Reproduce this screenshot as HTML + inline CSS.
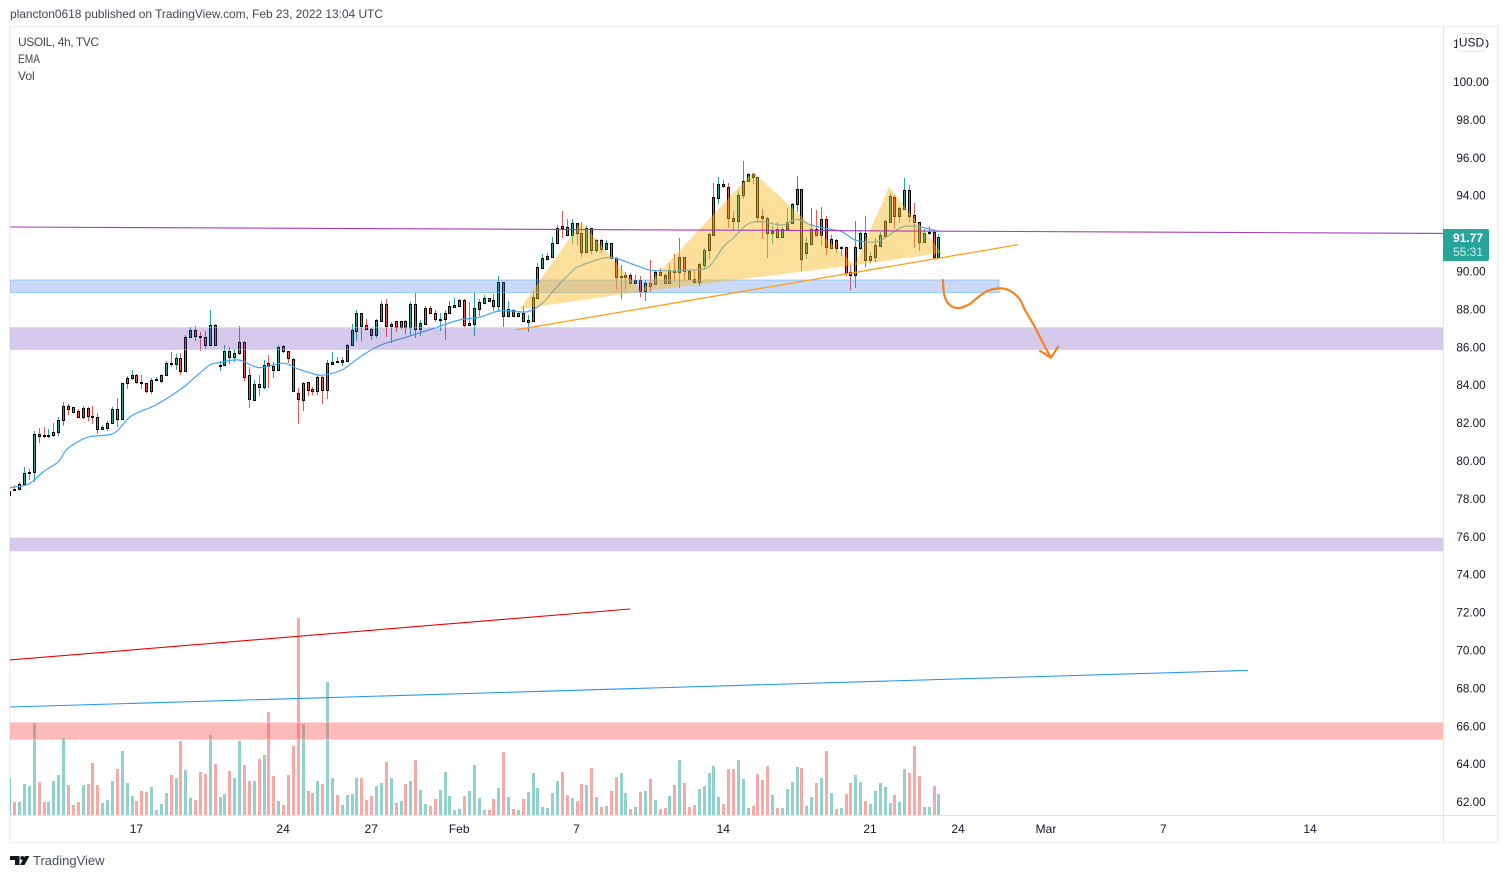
<!DOCTYPE html>
<html lang="en">
<head>
<meta charset="utf-8">
<title>USOIL 4h chart</title>
<style>
html,body{margin:0;padding:0;background:#fff;width:1509px;height:878px;overflow:hidden}
svg{display:block;font-family:"Liberation Sans",sans-serif}
text{font-family:"Liberation Sans",sans-serif}
</style>
</head>
<body>
<svg id="root" width="1509" height="878" viewBox="0 0 1509 878" xmlns="http://www.w3.org/2000/svg">
  <defs>
    <clipPath id="pane-clip"><rect x="10" y="27" width="1433.5" height="788.5"/></clipPath>
  </defs>
  <text x="10" y="18" font-size="12" textLength="373" fill="#434651">plancton0618 published on TradingView.com, Feb 23, 2022 13:04 UTC</text>
  <rect x="10" y="26.5" width="1488" height="816" fill="#fff" stroke="#f0f3fa" stroke-width="2"/>
  <g clip-path="url(#pane-clip)">
    <g id="volumes"></g>
    <g id="candles" shape-rendering="crispEdges"></g>
    <g id="ema"></g>
    <g id="drawings"></g>
  </g>
  <line x1="1443.5" y1="27" x2="1443.5" y2="842" stroke="#e0e3eb"/>
  <line x1="10" y1="815.5" x2="1497" y2="815.5" stroke="#e0e3eb"/>
  <g id="price-axis"></g>
  <g id="time-axis"></g>
  <g font-size="12" fill="#434651">
    <text x="18" y="46" textLength="81">USOIL, 4h, TVC</text>
    <text x="18" y="63" textLength="22" lengthAdjust="spacingAndGlyphs">EMA</text>
    <text x="18" y="80">Vol</text>
  </g>
  <g>
    <rect x="1457.5" y="33.5" width="28" height="18" rx="4" fill="#fff" stroke="#e0e3eb"/>
    <text x="1471.5" y="46.5" font-size="12" text-anchor="middle" fill="#131722">USD</text>
  </g>
  <g>
    <path d="M1443 229H1487a2 2 0 0 1 2 2V259a2 2 0 0 1 -2 2H1443Z" fill="#26a69a"/>
    <text x="1468" y="242" font-size="12" font-weight="bold" text-anchor="middle" fill="#fff">91.77</text>
    <text x="1468" y="256" font-size="12" text-anchor="middle" fill="#d4eeeb">55:31</text>
  </g>
  <g>
    <path d="M10 856H19.5V865H15V860H10Z" fill="#131722"/>
    <circle cx="22.3" cy="858" r="2" fill="#131722"/>
    <path d="M25 856H29.5L24.5 865H20Z" fill="#131722"/>
    <text x="33" y="865" font-size="13" fill="#4a4e5a">TradingView</text>
  </g>
</svg>
<script>
// Candle data: first entry is the partly visible bar at the left edge (bar index -1)
const firstBar = -1;
const opens = [78.20,
78.50,78.50,78.77,79.39,79.40,81.41,81.39,81.34,81.39,81.51,
82.15,82.89,82.83,82.62,82.30,82.78,82.39,82.30,81.71,81.76,
81.99,82.73,82.20,84.10,84.40,84.52,84.19,84.10,83.71,84.26,
84.24,84.52,85.16,85.10,85.42,84.77,86.53,86.90,86.58,86.53,
86.14,87.20,85.05,85.05,85.79,85.47,85.68,86.26,84.56,83.24,
84.05,83.92,85.16,85.00,84.79,86.05,85.79,85.40,83.61,83.23,
84.15,83.79,83.71,84.43,83.76,85.13,85.26,85.24,85.29,86.12,
86.87,87.79,87.16,86.95,86.66,87.40,88.27,87.14,87.37,87.07,
87.37,87.09,88.27,86.95,87.24,88.05,87.83,87.47,87.47,87.79,
88.14,88.20,88.48,87.19,87.24,88.04,88.35,88.58,88.48,88.18,
89.43,87.67,87.97,87.67,87.79,87.35,87.40,88.62,90.20,90.67,
90.78,91.52,92.38,92.33,91.92,92.54,92.01,91.04,92.27,91.13,
91.64,91.20,91.48,90.73,89.72,89.72,89.84,89.41,89.53,88.98,
89.37,89.32,90.00,89.84,89.41,90.06,89.99,90.74,90.04,89.58,
89.46,90.34,91.16,91.94,93.89,94.60,94.47,92.84,92.68,94.02,
94.79,95.12,94.97,92.91,92.84,92.01,92.22,91.83,92.26,92.57,
93.54,94.33,90.99,91.46,92.22,91.94,92.75,91.25,91.64,91.26,
91.27,89.95,89.79,91.25,92.01,90.62,90.78,91.36,91.87,92.63,
93.91,92.94,93.31,94.28,92.96,92.59,91.57,92.01,92.06,90.78];
const highs = [78.47,
78.73,78.91,79.66,79.56,81.58,81.72,81.78,81.67,81.99,82.30,
83.10,83.01,82.87,82.74,82.90,82.87,82.90,82.52,81.90,82.13,
82.83,83.34,84.14,84.49,84.80,84.59,84.54,84.14,84.36,84.42,
84.59,85.28,85.77,85.65,85.68,86.65,87.06,87.13,86.79,86.86,
87.97,87.22,85.26,86.12,86.00,85.91,87.13,86.32,84.98,84.28,
84.54,85.33,85.60,85.24,86.12,86.12,85.81,85.42,83.84,84.15,
84.18,83.88,84.53,84.50,85.33,85.75,85.50,85.47,86.17,87.23,
87.97,87.83,87.49,87.00,87.49,88.44,88.55,87.35,87.40,87.40,
87.44,88.37,88.88,87.44,88.18,88.18,87.97,87.79,87.97,88.46,
88.58,88.55,88.53,88.41,88.88,88.53,88.76,88.62,88.79,89.76,
89.46,88.44,88.00,87.88,88.18,87.70,88.97,90.43,90.92,90.99,
91.80,92.45,93.19,92.77,92.75,92.57,92.59,92.40,92.31,91.69,
91.69,91.66,91.52,90.78,90.34,89.99,89.90,89.84,89.76,89.55,
90.60,90.07,90.16,89.90,90.43,90.92,91.75,90.78,90.11,90.07,
90.43,91.22,92.01,94.65,94.97,94.83,94.65,93.21,94.26,95.83,
95.18,95.18,95.00,93.28,92.89,92.40,92.59,92.33,93.33,93.59,
95.04,94.37,91.80,93.37,93.24,93.38,92.92,91.92,91.69,91.34,
91.31,90.34,92.66,92.13,92.92,91.04,91.75,92.10,92.71,94.12,
94.03,93.38,94.91,94.56,93.63,92.63,92.22,92.40,92.19,91.97];
const lows = [78.20,
78.43,78.47,78.73,79.00,78.91,80.97,81.20,81.23,81.25,81.34,
81.86,82.43,82.57,82.27,82.23,82.09,81.94,81.42,81.67,81.60,
81.94,81.81,82.16,83.78,84.28,84.06,83.80,83.61,83.54,84.22,
84.10,84.49,84.98,84.80,84.54,84.72,86.48,86.35,85.82,85.90,
86.09,86.12,84.77,85.02,85.12,85.24,85.60,84.22,82.82,83.18,
83.45,83.78,83.87,84.36,84.75,85.72,85.16,83.64,81.95,82.63,
83.44,83.48,83.48,83.02,83.27,85.06,85.19,85.01,85.26,86.07,
86.33,86.33,86.91,86.38,86.47,87.35,86.52,86.24,86.82,86.96,
86.68,86.65,86.51,86.59,87.21,87.79,87.35,86.86,86.38,87.76,
88.11,88.14,87.09,87.14,86.59,87.65,88.32,88.41,87.93,87.88,
87.09,87.65,87.61,87.58,87.31,86.82,87.35,88.58,90.17,90.64,
90.69,91.45,91.78,91.87,91.43,91.39,90.78,90.95,90.92,90.95,
90.95,91.13,90.69,89.02,88.54,89.02,89.37,89.37,88.67,88.46,
88.93,89.28,89.81,89.37,89.37,89.46,89.11,89.51,89.55,89.42,
89.25,90.07,90.65,91.89,93.56,94.39,92.27,92.19,92.26,93.84,
94.74,94.60,92.54,91.71,90.73,91.45,91.69,91.80,92.22,92.54,
93.15,90.02,90.65,91.43,91.87,91.34,90.87,91.22,90.95,90.81,
89.76,89.02,89.14,91.13,90.25,90.46,90.51,91.31,91.83,92.59,
92.24,92.54,93.28,92.63,91.25,91.08,91.53,91.92,90.64,90.74];
const closes = [78.42,
78.45,78.77,79.38,79.40,81.41,81.30,81.34,81.39,81.51,82.15,
82.89,82.76,82.60,82.30,82.78,82.39,82.30,81.67,81.78,81.99,
82.73,82.20,84.10,84.40,84.52,84.19,84.10,83.71,84.26,84.31,
84.52,85.16,85.10,85.42,84.77,86.53,86.90,86.58,86.56,86.14,
87.20,86.14,85.06,85.79,85.47,85.68,86.26,84.45,83.26,84.05,
83.92,85.09,85.00,84.79,86.00,85.79,85.42,83.68,83.26,84.09,
83.76,83.71,84.41,83.74,85.15,85.20,85.22,85.31,86.10,86.89,
87.79,87.14,86.95,86.66,87.42,88.27,87.14,87.24,87.07,87.37,
87.09,88.27,86.95,87.26,88.05,87.83,87.47,87.48,87.79,88.16,
88.21,88.48,87.17,87.26,88.05,88.39,88.58,88.46,88.20,89.43,
87.67,88.00,87.67,87.79,87.37,87.42,88.63,90.22,90.69,90.80,
91.53,92.27,92.31,91.92,92.54,92.01,91.04,92.27,91.13,91.66,
91.20,91.48,90.73,89.72,89.74,89.79,89.41,89.53,88.98,89.37,
89.26,90.00,89.84,89.41,90.06,89.99,90.74,90.04,89.58,89.46,
90.37,91.16,91.96,93.91,94.60,94.49,92.84,92.68,94.02,94.79,
95.12,94.97,92.89,92.84,92.01,92.12,91.83,92.26,92.59,93.54,
94.33,90.64,91.48,92.22,91.94,92.75,91.27,91.69,91.25,91.27,
89.93,89.79,91.27,92.01,90.62,90.80,91.39,91.90,92.66,93.98,
92.94,93.33,94.28,92.94,92.59,91.57,92.01,92.06,90.78,91.80];
// Volume per bar, thousands of contracts
const volumes = [37,
13,13,31,29,92,33,13,13,34,40,
77,30,10,13,30,31,52,30,12,15,
34,46,64,32,19,14,24,23,28,5,
11,22,40,37,74,45,17,15,43,41,
80,51,18,21,44,37,74,50,34,34,
56,60,103,39,14,10,40,69,197,91,
24,22,34,31,133,37,20,10,20,21,
37,37,15,19,29,32,53,37,12,14,
31,34,55,25,11,9,16,25,43,19,
5,6,19,24,50,17,5,5,16,27,
63,18,6,5,16,23,42,27,8,7,
22,34,43,20,17,14,31,30,47,18,
8,9,24,38,42,22,6,8,23,24,
36,15,6,7,19,30,55,32,8,10,
26,29,42,49,18,11,46,46,55,36,
7,9,41,35,49,20,7,7,26,33,
48,47,9,18,32,37,64,22,6,7,
21,32,40,33,14,11,24,32,28,12,
20,13,46,42,69,39,8,8,29,21];
// EMA read at sampled bars
const emaBars = [-1,3,6,9,11,15,19,21,24,29,34,37,40,42,46,50,55,58,61,63,67,71,75,80,83,86,91,95,99,102,105,108,111,114,115,118,122,127,130,133,138,142,145,147,150,153,157,160,163,167,169,172,174,177,181,183,186,189];
const emaValues = [78.59,78.79,79.44,79.96,80.67,81.25,81.37,81.58,82.39,82.96,83.78,84.42,85.07,85.19,85.33,84.93,85.16,84.86,84.62,84.53,84.80,85.54,86.12,86.52,86.77,87.02,87.44,87.58,87.91,87.91,87.88,88.32,89.20,90.00,90.21,90.51,90.74,90.34,90.07,90.04,90.07,90.25,91.31,91.75,92.50,92.63,92.45,92.75,92.45,92.22,92.13,91.66,91.57,91.62,92.27,92.40,92.31,92.12];
// Axis labels
const priceTicks = [102,100,98,96,94,92,90,88,86,84,82,80,78,76,74,72,70,68,66,64,62];
const timeTickLabels = ['17','24','27','Feb','7','14','21','24','Mar','7','14'];
const timeTickBars = [25,55,73,91,115,145,175,193,211,235,265];
// Drawn levels and tools, as bar index / price
const resistanceBars = [-0.9,292.3];
const resistancePrices = [92.35,92.01];
const blueZoneBars = [-0.9,201.4];
const blueZonePrices = [89.55,88.89];
const upperPurpleZonePrices = [87.04,85.88];
const lowerPurpleZonePrices = [75.94,75.25];
const pinkZonePrices = [66.20,65.30];
const zoneFullBars = [-0.9,292.3];
const redLineBars = [-0.9,125.9];
const redLinePrices = [69.50,72.19];
const blueLineBars = [-0.9,252.2];
const blueLinePrices = [67.02,68.95];
const trendBars = [102.8,205.2];
const trendPrices = [86.93,91.41];
const leftShoulderBars = [103.4,115.9,128.2];
const leftShoulderPrices = [88.02,92.61,88.94];
const headBars = [128.2,151.1,171.9];
const headPrices = [88.94,95.25,90.34];
const rightShoulderBars = [171.9,178.9,189.7];
const rightShoulderPrices = [90.34,94.46,90.98];
const forecastBars = [189.9,190.2,191,192.4,193.7,195.4,197.1,199.2,201.9,204,205.7,206.7,208.7,210.4,212];
const forecastPrices = [89.55,88.76,88.32,88.09,88.09,88.28,88.64,88.99,89.11,88.93,88.50,87.97,87.09,86.21,85.45];
const arrowHeadBars = [209.8,212,213.5];
const arrowHeadPrices = [85.81,85.45,86.03];

// Axis functions
function barX(bar){ return 14.2 + 4.89 * bar; }
function priceY(price){ return 82 + (100 - price) * 18.95; }
function volumeY(volume){ return 815 - volume; }

const SVG_NS = 'http://www.w3.org/2000/svg';
const GREEN = '#26a69a';
const RED = '#ef5350';

function make(parent, tag, attrs){
  const node = document.createElementNS(SVG_NS, tag);
  Object.keys(attrs).forEach(function(k){ node.setAttribute(k, attrs[k]); });
  parent.appendChild(node);
  return node;
}
function pointsOf(bars, prices){
  return bars.map(function(b, i){ return barX(b).toFixed(1) + ',' + priceY(prices[i]).toFixed(1); }).join(' ');
}
// Smooth curve through the given vertices (Catmull-Rom to Bezier)
function smoothPath(bars, prices){
  const pts = bars.map(function(b, i){ return [barX(b), priceY(prices[i])]; });
  let d = 'M' + pts[0][0].toFixed(1) + ' ' + pts[0][1].toFixed(1);
  for (let i = 0; i < pts.length - 1; i++) {
    const p0 = pts[Math.max(0, i - 1)];
    const p1 = pts[i];
    const p2 = pts[i + 1];
    const p3 = pts[Math.min(pts.length - 1, i + 2)];
    const c1x = p1[0] + (p2[0] - p0[0]) / 6;
    const c1y = p1[1] + (p2[1] - p0[1]) / 6;
    const c2x = p2[0] - (p3[0] - p1[0]) / 6;
    const c2y = p2[1] - (p3[1] - p1[1]) / 6;
    d += 'C' + c1x.toFixed(1) + ' ' + c1y.toFixed(1) + ' ' + c2x.toFixed(1) + ' ' + c2y.toFixed(1) + ' ' + p2[0].toFixed(1) + ' ' + p2[1].toFixed(1);
  }
  return d;
}

const volumeLayer = document.getElementById('volumes');
const candleLayer = document.getElementById('candles');
const emaLayer = document.getElementById('ema');
const drawLayer = document.getElementById('drawings');
const priceAxis = document.getElementById('price-axis');
const timeAxis = document.getElementById('time-axis');

// Volume bars
volumes.forEach(function(v, i){
  const cx = Math.round(barX(i + firstBar));
  const up = closes[i] >= opens[i];
  const el = make(volumeLayer, 'rect', {x: cx - 1, y: volumeY(v), width: 3, height: 815 - volumeY(v), fill: up ? 'rgba(38,166,154,.5)' : 'rgba(239,83,80,.5)'});
  
  
});

// Candles
opens.forEach(function(o, i){
  const c = closes[i];
  const cx = Math.round(barX(i + firstBar));
  const up = c >= o;
  const color = up ? GREEN : RED;
  const group = make(candleLayer, 'g', {});
  
  
  const wick = make(group, 'rect', {x: cx, y: Math.round(priceY(highs[i])), width: 1, height: Math.max(1, Math.round(priceY(lows[i])) - Math.round(priceY(highs[i]))), fill: color});
  
  
  const top = Math.round(priceY(Math.max(o, c)));
  const bottom = Math.round(priceY(Math.min(o, c)));
  const h = Math.max(2, bottom - top + 1);
  const border = make(group, 'rect', {x: cx - 1, y: top, width: 3, height: h, fill: '#000'});
  
  
  if (h > 2) {
    const body = make(group, 'rect', {x: cx, y: top + 1, width: 1, height: h - 2, fill: color});
    
    
  }
});

// EMA
const emaLine = make(emaLayer, 'path', {d: smoothPath(emaBars, emaValues), fill: 'none', stroke: '#42a5f5', 'stroke-width': 1.2, 'stroke-linejoin': 'round'});



// Zones
function zone(bars, prices, fill, stroke){
  const y0 = priceY(prices[0]);
  const y1 = priceY(prices[1]);
  return make(drawLayer, 'rect', {x: barX(bars[0]), y: y0, width: barX(bars[1]) - barX(bars[0]), height: y1 - y0, fill: fill, stroke: stroke});
}
const blueZone = zone(blueZoneBars, blueZonePrices, 'rgba(66,120,230,.28)', 'rgba(100,181,246,.6)');


const upperPurple = zone(zoneFullBars, upperPurpleZonePrices, 'rgba(103,58,183,.27)', 'rgba(209,196,233,.5)');


const lowerPurple = zone(zoneFullBars, lowerPurpleZonePrices, 'rgba(103,58,183,.27)', 'rgba(209,196,233,.5)');


const pinkZone = zone(zoneFullBars, pinkZonePrices, 'rgba(255,82,82,.4)', 'rgba(255,205,210,.6)');



// Head and shoulders pattern
function pattern(bars, prices){
  return make(drawLayer, 'polygon', {points: pointsOf(bars, prices), fill: '#f9b81f', 'fill-opacity': .45});
}
const leftShoulder = pattern(leftShoulderBars, leftShoulderPrices);


const headShape = pattern(headBars, headPrices);


const rightShoulder = pattern(rightShoulderBars, rightShoulderPrices);



// Lines
function drawn(bars, prices, color, width){
  return make(drawLayer, 'polyline', {points: pointsOf(bars, prices), fill: 'none', stroke: color, 'stroke-width': width, 'stroke-linejoin': 'round', 'stroke-linecap': 'round'});
}
const resistance = drawn(resistanceBars, resistancePrices, '#a53bb8', 1.1);


const redLine = drawn(redLineBars, redLinePrices, '#f00000', 1.1);


const blueLine = drawn(blueLineBars, blueLinePrices, '#2196f3', 1.1);


const trendLine = drawn(trendBars, trendPrices, '#ff9f1c', 1.3);


const forecast = make(drawLayer, 'path', {d: smoothPath(forecastBars, forecastPrices), fill: 'none', stroke: '#f5821f', 'stroke-width': 2.2, 'stroke-linecap': 'round', 'stroke-linejoin': 'round'});


const arrowHead = drawn(arrowHeadBars, arrowHeadPrices, '#f5821f', 2.2);



// Price axis labels
priceTicks.forEach(function(p){
  const t = make(priceAxis, 'text', {x: 1471, y: (priceY(p) + 4).toFixed(1), 'font-size': 11.7, 'text-anchor': 'middle', fill: '#131722'});
  t.textContent = p.toFixed(2);
  
  
});

// Time axis labels
timeTickLabels.forEach(function(label, i){
  const t = make(timeAxis, 'text', {x: barX(timeTickBars[i]).toFixed(1), y: 833, 'font-size': 12, 'text-anchor': 'middle', fill: '#131722'});
  t.textContent = label;
  
  
});
</script>
</body>
</html>
